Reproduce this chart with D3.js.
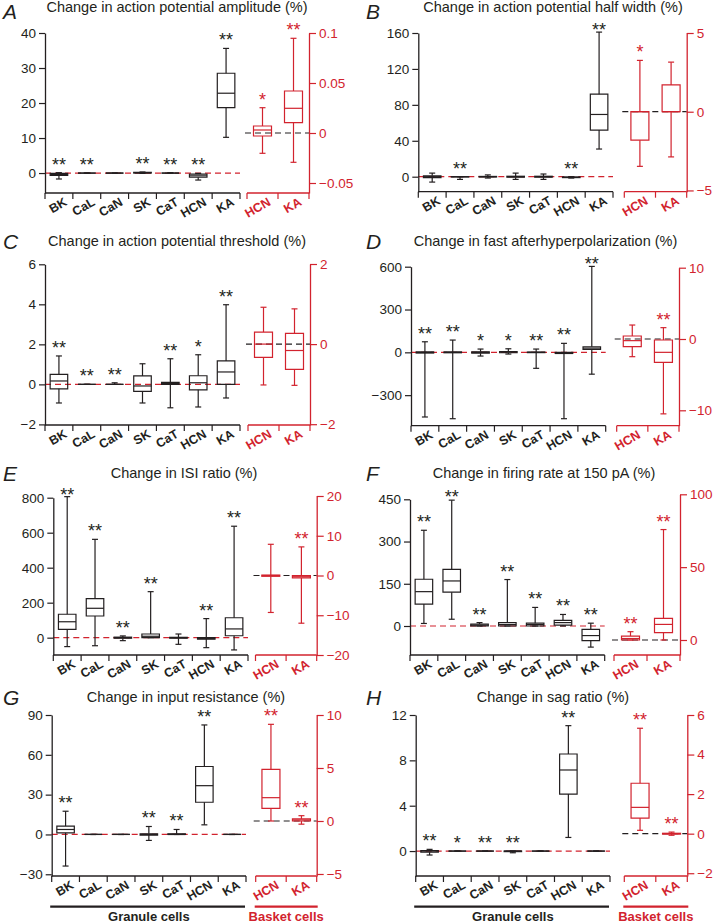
<!DOCTYPE html>
<html><head><meta charset="utf-8">
<script src="https://cdn.jsdelivr.net/npm/d3@7"></script>
<style>body{margin:0;background:#fff}svg{display:block}text{font-family:"Liberation Sans",Arial,Helvetica,sans-serif}</style>
</head><body><svg id="c" width="713" height="923"></svg>
<script>
// ---------- DATA ----------
const granuleCats = ["BK","CaL","CaN","SK","CaT","HCN","KA"];
const basketCats = ["HCN","KA"];
const groupLabels = ["Granule cells","Basket cells"];
const panelLetters = ["A","B","C","D","E","F","G","H"];
const panelTitles = [
  "Change in action potential amplitude (%)",
  "Change in action potential half width (%)",
  "Change in action potential threshold (%)",
  "Change in fast afterhyperpolarization (%)",
  "Change in ISI ratio (%)",
  "Change in firing rate at 150 pA (%)",
  "Change in input resistance (%)",
  "Change in sag ratio (%)"
];
// each box: [min, q1, median, q3, max]
const ampGranule = [[-1.7,-0.7,-0.4,-0.1,0.1],[0,0,0,0,0],[0,0,0,0,0],[-0.1,0,0.1,0.2,0.3],[0,0,0,0,0.1],[-2,-1.2,-0.8,-0.3,-0.1],[10.2,18.7,22.8,28.5,35.6]];
const ampBasket = [[-0.0203,-0.003,0.003,0.007,0.0253],[-0.0293,0.0103,0.0247,0.042,0.0947]];
const ampStarsG = ["**","**","","**","**","**","**"];
const ampStarsB = ["*","**"];
const ampTicksL = [0,10,20,30,40];
const ampTicksR = [-0.05,0,0.05,0.1];

const hwGranule = [[-6,-1,0,1,4],[-3,-0.3,0,0,0],[-1.5,-0.3,0,0.3,2],[-3,-0.5,0,0.5,4],[-3,-0.5,0,0.5,3],[-1.5,-1,-0.7,-0.3,0],[30.8,51.9,69.3,91.9,161]];
const hwBasket = [[-3.47,-1.81,0,0,3.26],[-2.87,0,0,1.7,3.15]];
const hwStarsG = ["","**","","","","**","**"];
const hwStarsB = ["*",""];
const hwTicksL = [0,40,80,120,160];
const hwTicksR = [-5,0,5];

const thrGranule = [[-0.93,-0.22,0.17,0.5,1.42],[0,0,0,0,0],[0,0,0,0,0.08],[-0.93,-0.35,-0.08,0.42,1.03],[-1.17,0,0.05,0.1,1.28],[-1.13,-0.27,0.08,0.43,1.48],[-0.68,0,0.62,1.17,3.98]];
const thrBasket = [[-1.02,-0.33,0,0.3,0.92],[-1.03,-0.63,-0.16,0.27,0.88]];
const thrStarsG = ["**","**","**","","**","*","**"];
const thrStarsB = ["",""];
const thrTicksL = [-2,0,2,4,6];
const thrTicksR = [-2,0,2];

const ahpGranule = [[-453,-5,0,3,74],[-465,-3,0,3,86],[-26,-6,0,4,23],[-12,-3,2,6,25],[-112,-2,0,2,23],[-465,-8,-3,0,63],[-153,21,30,39,602]];
const ahpBasket = [[-2.48,-1.08,-0.23,0.42,1.96],[-10.5,-3.27,-1.87,-0.14,1.59]];
const ahpStarsG = ["**","**","*","*","**","**","**"];
const ahpStarsB = ["","**"];
const ahpTicksL = [-300,0,300,600];
const ahpTicksR = [-10,0,10];

const isiGranule = [[-51,48,91,134,806],[-46,124,168,223,562],[-17,-3,0,3,10],[0,0,8,21,263],[-38,-3,0,2,21],[-57,-8,-5,0,109],[-70,11,50,114,637]];
const isiBasket = [[-9.3,-0.2,0,0.1,7.85],[-12,-0.6,-0.3,0,7.2]];
const isiStarsG = ["**","**","**","**","","**","**"];
const isiStarsB = ["","**"];
const isiTicksL = [0,200,400,600,800];
const isiTicksR = [-20,-10,0,10,20];

const frGranule = [[9,78,122,166,340],[24,120,160,201,447],[0,0,3,7,12],[0,0,5,12,165],[0,0,5,10,66],[0,3,12,20,41],[-75,-52,-34,-12,10]];
const frBasket = [[0,0,1,2.7,5.7],[0,5,10.7,14.8,75.8]];
const frStarsG = ["**","**","**","**","**","**","**"];
const frStarsB = ["**","**"];
const frTicksL = [0,150,300,450];
const frTicksR = [0,50,100];

const rinGranule = [[-23.8,1.25,3.75,6.3,17.5],[0,0,0,0,0],[0,0,0,0,0],[-4.5,-0.5,0,0.5,6],[0,0,0,0.5,3.75],[7.25,24.25,36.75,51.2,82.5],[0,0,0,0,0]];
const rinBasket = [[0,1.19,2.2,4.87,9.12],[-0.3,0,0.1,0.2,0.5]];
const rinStarsG = ["**","","","**","**","**",""];
const rinStarsB = ["**","**"];
const rinTicksL = [-30,0,30,60,90];
const rinTicksR = [-5,0,5,10];

const sagGranule = [[-0.35,-0.1,0,0.05,0.15],[0,0,0,0,0],[0,0,0,0,0],[-0.15,-0.05,0,0,0.02],[0,0,0,0,0],[1.2,5.03,7.15,8.56,11.06],[0,0,0,0,0]];
const sagBasket = [[0.17,0.79,1.33,2.55,5.33],[-0.08,-0.02,0,0.02,0.08]];
const sagStarsG = ["**","*","**","**","","**",""];
const sagStarsB = ["**","**"];
const sagTicksL = [0,4,8,12];
const sagTicksR = [-2,0,2,4,6];

// ---------- LAYOUT ----------
const RED = "#d2232e", INK = "#231f20";
const layouts = [
  {lx:45, gx1:240, rx0:247, rx1:309, bottom:193, ltop:33, ldom:[-5.7,40], rtop:33, rdom:[-0.06,0.1], letterX:3, letterY:18.5, titleX:177, titleY:12},
  {lx:418.3, gx1:613, rx0:624.3, rx1:686.7, bottom:191.7, ltop:33, ldom:[-16.7,160], rtop:33, rdom:[-5.08,5], letterX:366, letterY:18.5, titleX:553, titleY:12},
  {lx:45, gx1:240, rx0:248, rx1:310, bottom:425, ltop:264.3, ldom:[-2.03,6], rtop:264, rdom:[-2.02,2], letterX:3, letterY:249, titleX:177, titleY:246},
  {lx:411, gx1:605.7, rx0:616.7, rx1:679, bottom:425.7, ltop:266.7, ldom:[-514,600], rtop:267.7, rdom:[-12.16,10], letterX:366, letterY:249, titleX:545.5, titleY:246},
  {lx:53.3, gx1:248, rx0:255.5, rx1:316.7, bottom:655, ltop:497.7, ldom:[-99,800], rtop:496, rdom:[-20,20], letterX:3, letterY:480.5, titleX:184, titleY:478},
  {lx:410, gx1:604.7, rx0:614, rx1:680, bottom:655, ltop:499.3, ldom:[-103,450], rtop:494.3, rdom:[-10.3,100], letterX:366, letterY:480.5, titleX:544, titleY:478},
  {lx:51.7, gx1:246, rx0:255.7, rx1:316.7, bottom:876, ltop:715, ldom:[-31.3,90], rtop:715, rdom:[-5.19,10], letterX:3, letterY:705, titleX:186, titleY:702, groups:true},
  {lx:415.7, gx1:610, rx0:624.3, rx1:687.3, bottom:876, ltop:715, ldom:[-2.2,12], rtop:715, rdom:[-2.14,6], letterX:366, letterY:705, titleX:553, titleY:702, groups:true}
];
const panelData = [
  [ampGranule, ampBasket, ampStarsG, ampStarsB, ampTicksL, ampTicksR],
  [hwGranule, hwBasket, hwStarsG, hwStarsB, hwTicksL, hwTicksR],
  [thrGranule, thrBasket, thrStarsG, thrStarsB, thrTicksL, thrTicksR],
  [ahpGranule, ahpBasket, ahpStarsG, ahpStarsB, ahpTicksL, ahpTicksR],
  [isiGranule, isiBasket, isiStarsG, isiStarsB, isiTicksL, isiTicksR],
  [frGranule, frBasket, frStarsG, frStarsB, frTicksL, frTicksR],
  [rinGranule, rinBasket, rinStarsG, rinStarsB, rinTicksL, rinTicksR],
  [sagGranule, sagBasket, sagStarsG, sagStarsB, sagTicksL, sagTicksR]
];

// ---------- DRAW ----------
const svg = d3.select("#c");
const fmt = d => d < 0 ? "\u2212" + Math.abs(d) : String(d);

function styleAxis(a, color) {
  a.attr("font-family", null).attr("font-size", null);
  a.select(".domain").attr("stroke", color).attr("stroke-width", 1.3);
  a.selectAll(".tick line").attr("stroke", color).attr("stroke-width", 1.2);
  a.selectAll(".tick text").attr("fill", color).attr("font-size", 13.5);
}

function drawBoxes(g, x, y, cats, data, stars, color, top) {
  const bw = x.bandwidth();
  const w = Math.min(bw * 0.63, 18);
  const cap = 3;
  cats.forEach((c, i) => {
    const [mn, q1, md, q3, mx] = data[i];
    const cx = x(c) + bw / 2;
    const bg = g.append("g").attr("stroke", color).attr("stroke-width", 1.2).attr("fill", "none");
    bg.append("line").attr("x1", cx).attr("x2", cx).attr("y1", y(mn)).attr("y2", y(q1));
    bg.append("line").attr("x1", cx).attr("x2", cx).attr("y1", y(q3)).attr("y2", y(mx));
    bg.append("line").attr("x1", cx - cap).attr("x2", cx + cap).attr("y1", y(mn)).attr("y2", y(mn));
    bg.append("line").attr("x1", cx - cap).attr("x2", cx + cap).attr("y1", y(mx)).attr("y2", y(mx));
    bg.append("path").attr("d", `M${cx - w/2},${y(q3)}H${cx + w/2}V${y(q1)}H${cx - w/2}Z`);
    bg.append("line").attr("x1", cx - w/2).attr("x2", cx + w/2).attr("y1", y(md)).attr("y2", y(md));
    if (stars[i]) {
      const by = Math.max(y(mx) - 2, top + 3.4);
      g.append("text").attr("x", cx).attr("y", by).attr("text-anchor", "middle")
        .attr("font-size", 18).attr("fill", color).text(stars[i]);
    }
  });
}

function bottomAxis(g, x, cats, yb, color) {
  const r = x.range();
  const bw = x.bandwidth();
  g.append("line").attr("x1", r[0]).attr("x2", r[1]).attr("y1", yb).attr("y2", yb)
    .attr("stroke", color).attr("stroke-width", 1.3);
  const bounds = cats.map(c => x(c)).concat([r[1]]);
  bounds.forEach(b => g.append("line").attr("x1", b).attr("x2", b).attr("y1", yb).attr("y2", yb + 6)
    .attr("stroke", color).attr("stroke-width", 1.2));
  cats.forEach(c => g.append("text")
    .attr("transform", `translate(${x(c) + bw/2 + 9},${yb + 11.5}) rotate(-30)`)
    .attr("text-anchor", "end").attr("font-weight", "bold").attr("font-size", 12.5)
    .attr("fill", color).text(c));
}

layouts.forEach((p, k) => {
  const [gData, bData, gStars, bStars, lticks, rticks] = panelData[k];
  const g = svg.append("g");
  const y = d3.scaleLinear().domain(p.ldom).range([p.bottom, p.ltop]);
  const yr = d3.scaleLinear().domain(p.rdom).range([p.bottom, p.rtop]);
  const x = d3.scaleBand().domain(granuleCats).range([p.lx, p.gx1]);
  const xr = d3.scaleBand().domain(basketCats).range([p.rx0, p.rx1]);

  g.append("text").attr("x", p.letterX).attr("y", p.letterY).attr("font-size", 21)
    .attr("font-style", "italic").attr("fill", INK).text(panelLetters[k]);
  g.append("text").attr("x", p.titleX).attr("y", p.titleY).attr("text-anchor", "middle")
    .attr("font-size", 14.5).attr("fill", INK).text(panelTitles[k]);

  g.append("line").attr("x1", p.lx).attr("x2", p.gx1).attr("y1", y(0)).attr("y2", y(0))
    .attr("stroke", RED).attr("stroke-width", 1.2).attr("stroke-dasharray", "6,4");
  g.append("line").attr("x1", p.rx0 - 2).attr("x2", p.rx1).attr("y1", yr(0)).attr("y2", yr(0))
    .attr("stroke", INK).attr("stroke-width", 1.2).attr("stroke-dasharray", "6,4");

  drawBoxes(g, x, y, granuleCats, gData, gStars, INK, p.ltop);
  drawBoxes(g, xr, yr, basketCats, bData, bStars, RED, p.rtop);

  const la = g.append("g").attr("transform", `translate(${p.lx},0)`)
    .call(d3.axisLeft(y).tickValues(lticks).tickFormat(fmt).tickSize(6).tickSizeOuter(0).tickPadding(3));
  styleAxis(la, INK);
  const ra = g.append("g").attr("transform", `translate(${p.rx1},0)`)
    .call(d3.axisRight(yr).tickValues(rticks).tickFormat(fmt).tickSize(7).tickSizeOuter(0).tickPadding(3));
  styleAxis(ra, RED);

  bottomAxis(g, x, granuleCats, p.bottom, INK);
  bottomAxis(g, xr, basketCats, p.bottom, RED);

  if (p.groups) {
    const gy = 906.7;
    g.append("line").attr("x1", p.lx - 1.5).attr("x2", p.gx1 - 1).attr("y1", gy).attr("y2", gy)
      .attr("stroke", INK).attr("stroke-width", 2.2);
    g.append("line").attr("x1", p.rx0 - 1).attr("x2", p.rx1 + 1).attr("y1", gy).attr("y2", gy)
      .attr("stroke", RED).attr("stroke-width", 2.2);
    g.append("text").attr("x", (p.lx + p.gx1) / 2).attr("y", 921).attr("text-anchor", "middle")
      .attr("font-weight", "bold").attr("font-size", 13).attr("fill", INK).text(groupLabels[0]);
    g.append("text").attr("x", (p.rx0 + p.rx1) / 2).attr("y", 921).attr("text-anchor", "middle")
      .attr("font-weight", "bold").attr("font-size", 13).attr("fill", RED).text(groupLabels[1]);
  }
});
</script>
</body></html>
